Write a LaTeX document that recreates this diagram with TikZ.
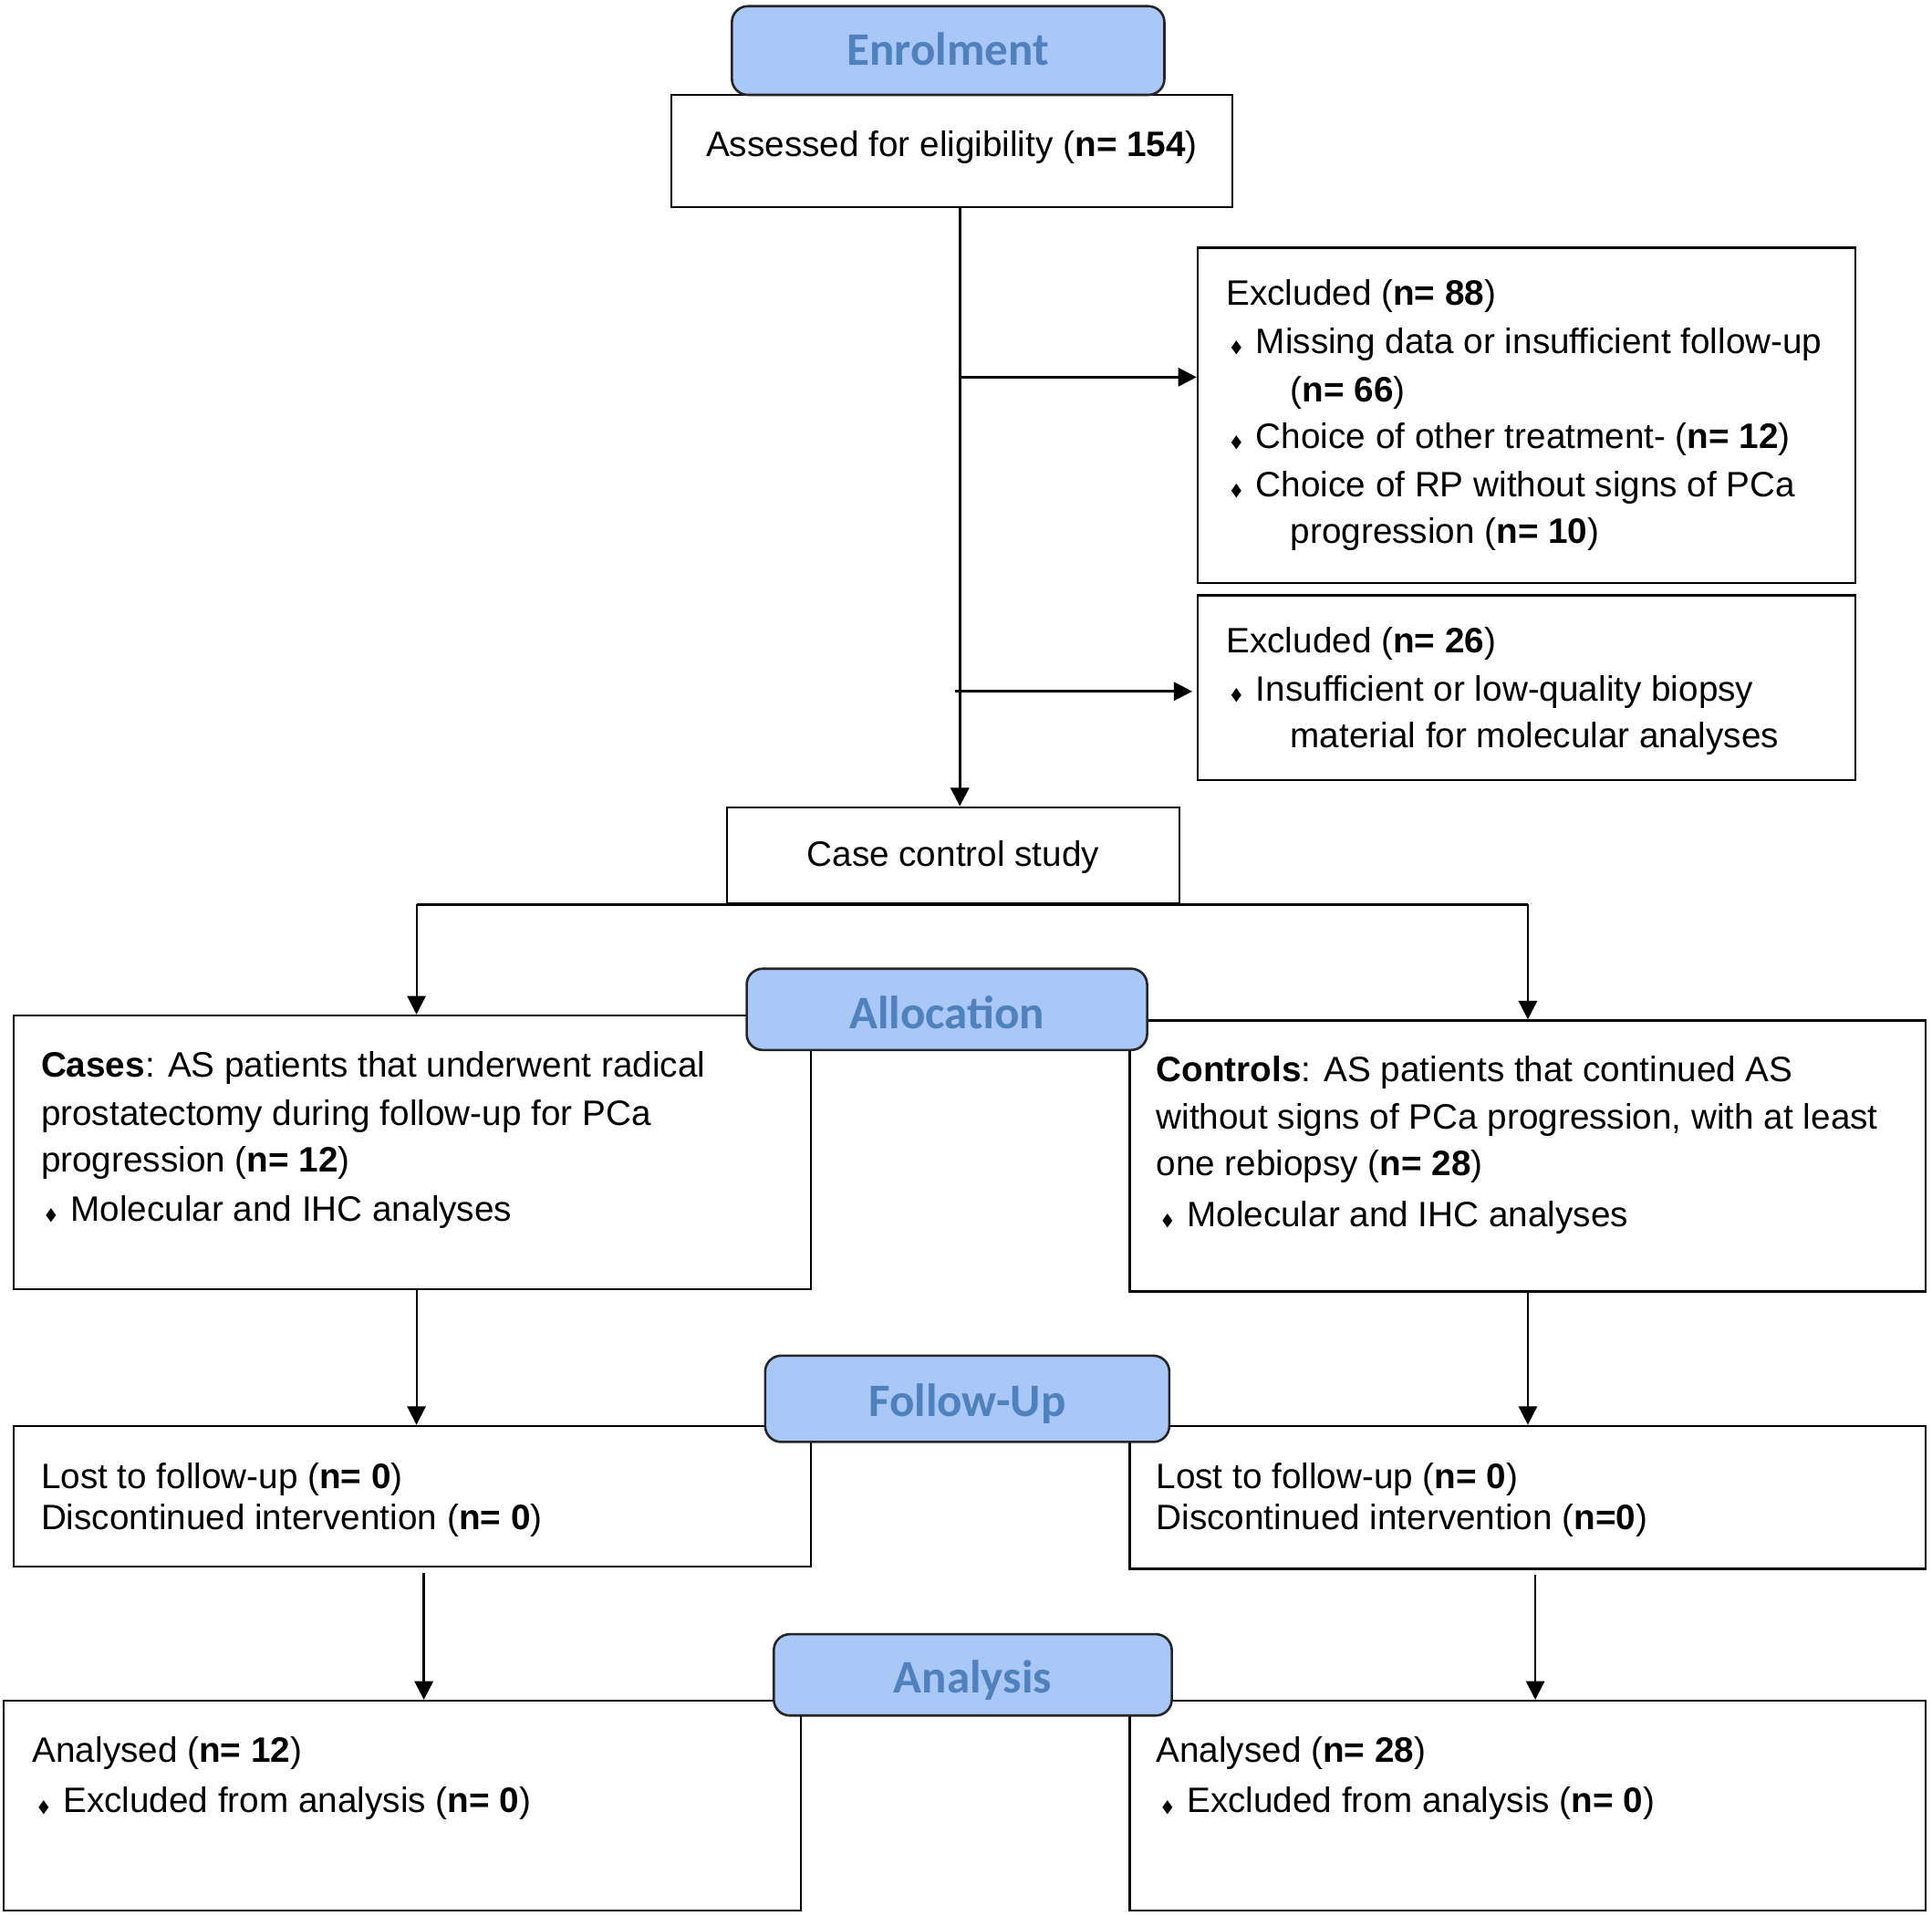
\documentclass[tikz,border=0pt]{standalone}
\usepackage{fontspec}
\setmainfont{Liberation Sans}
\newfontfamily\carlito{Carlito}
\newfontfamily\dejavu{DejaVu Sans}
\usepackage{graphicx}
\usetikzlibrary{fit,arrows.meta}
\definecolor{phasefill}{RGB}{169,199,247}
\definecolor{phasetext}{RGB}{79,129,189}
\newcommand{\bul}{\makebox[0.4cm][l]{\raisebox{0.3pt}{\scalebox{0.72}[1]{\dejavu\fontsize{8.5}{8.5}\selectfont ◆}}}}
\begin{document}
\begin{tikzpicture}[x=0.02cm,y=-0.02cm]
\tikzset{
  box/.style={draw, line width=1pt, inner sep=0pt, fill=white},
  phase/.style={draw=black!85, line width=1.1pt, fill=phasefill, rounded corners=0.26cm, inner sep=0pt},
  phasetxt/.style={anchor=base, inner sep=0pt, text=phasetext, font=\carlito\bfseries\fontsize{21.5}{21.5}\selectfont},
  txt/.style={anchor=base west, inner sep=0pt, font=\fontsize{16.3}{19}\selectfont},
  ctxt/.style={anchor=base, inner sep=0pt, font=\fontsize{16.3}{19}\selectfont},
  arr/.style={line width=0.85pt, -{Triangle[length=0.3cm,width=0.3cm]}},
  arrthick/.style={line width=1.2pt, -{Triangle[length=0.3cm,width=0.3cm]}},
  ln/.style={line width=1pt}
}
\useasboundingbox (0,0) rectangle (1568,1554);

% boxes
\node[box, fit={(545,77) (1000,168)}] (ass) {};
\node[box, fit={(972,201) (1506,473)}] (ex1) {};
\node[box, fit={(972,483) (1506,633)}] (ex2) {};
\node[box, fit={(590,655) (957,733)}] (cc) {};
\node[box, fit={(11,824) (658,1046)}] (cases) {};
\node[box, fit={(917,828) (1563,1048)}] (ctrl) {};
\node[box, fit={(11,1157) (658,1271)}] (lostl) {};
\node[box, fit={(917,1157) (1563,1273)}] (lostr) {};
\node[box, fit={(3,1380) (650,1550)}] (anl) {};
\node[box, fit={(917,1380) (1563,1550)}] (anr) {};

% phase headers
\node[phase, fit={(594,5) (945,77)}] (penr) {};
\node[phase, fit={(606,786) (931,852)}] (palloc) {};
\node[phase, fit={(621,1100) (949,1170)}] (pfup) {};
\node[phase, fit={(628,1326) (951,1392)}] (pan) {};
\node[phasetxt] (tenr) at (769.5,53) {Enrolment};
\node[phasetxt] (talloc) at (768.5,835) {Allocation};
\node[phasetxt] (tfup) at (785,1149) {Follow-Up};
\node[phasetxt] (tan) at (789.5,1374) {Analysis};

% texts
\node[ctxt] (t1) at (772.5,127) {Assessed for eligibility (\textbf{n= 154})};

\node[txt] (e1) at (995,248) {Excluded (\textbf{n= 88})};
\node[txt] (e2) at (999,287) {\bul Missing data or insufficient follow-up};
\node[txt] (e3) at (1047,326) {(\textbf{n= 66})};
\node[txt] (e4) at (999,364) {\bul Choice of other treatment- (\textbf{n= 12})};
\node[txt] (e5) at (999,403) {\bul Choice of RP without signs of PCa};
\node[txt] (e6) at (1047,441) {progression (\textbf{n= 10})};

\node[txt] (f1) at (995,530) {Excluded (\textbf{n= 26})};
\node[txt] (f2) at (999,569) {\bul Insufficient or low-quality biopsy};
\node[txt] (f3) at (1047,607) {material for molecular analyses};

\node[ctxt] (c1) at (773.5,703) {Case control study};

\node[txt] (k1) at (33,874) {\textbf{Cases}: AS patients that underwent radical};
\node[txt] (k2) at (33,913) {prostatectomy during follow-up for PCa};
\node[txt] (k3) at (33,951) {progression (\textbf{n= 12})};
\node[txt] (k4) at (37,991) {\bul Molecular and IHC analyses};

\node[txt] (r1) at (938,878) {\textbf{Controls}: AS patients that continued AS};
\node[txt] (r2) at (938,916) {without signs of PCa progression, with at least};
\node[txt] (r3) at (938,954) {one rebiopsy (\textbf{n= 28})};
\node[txt] (r4) at (943,995) {\bul Molecular and IHC analyses};

\node[txt] (l1) at (33,1208) {Lost to follow-up (\textbf{n= 0})};
\node[txt] (l2) at (33,1241) {Discontinued intervention (\textbf{n= 0})};
\node[txt] (m1) at (938,1208) {Lost to follow-up (\textbf{n= 0})};
\node[txt] (m2) at (938,1241) {Discontinued intervention (\textbf{n=0})};

\node[txt] (a1) at (26,1430) {Analysed (\textbf{n= 12})};
\node[txt] (a2) at (31,1471) {\bul Excluded from analysis (\textbf{n= 0})};
\node[txt] (b1t) at (938,1430) {Analysed (\textbf{n= 28})};
\node[txt] (b2t) at (943,1471) {\bul Excluded from analysis (\textbf{n= 0})};

% connectors
\coordinate (vx) at (779,0);
\coordinate (br1) at (779,306);
\coordinate (br2) at (775,561);
\coordinate (sl) at (338,734);
\coordinate (sr) at (1240,734);
\coordinate (al) at (344,1276);
\coordinate (ar) at (1246,1278);

\draw[arrthick] (vx |- ass.south) -- (vx |- cc.north);
\draw[arrthick] (br1) -- (br1 -| ex1.west);
\draw[arrthick] (br2) -- ([xshift=-2pt]br2 -| ex2.west);
\draw[ln] (sl) -- (sr);
\draw[arr] (sl) -- (sl |- cases.north);
\draw[arr] (sr) -- (sr |- ctrl.north);
\draw[arr] (sl |- cases.south) -- (sl |- lostl.north);
\draw[arr] (sr |- ctrl.south) -- (sr |- lostr.north);
\draw[arrthick] (al) -- (al |- anl.north);
\draw[arr] (ar) -- (ar |- anr.north);
\end{tikzpicture}
\end{document}
